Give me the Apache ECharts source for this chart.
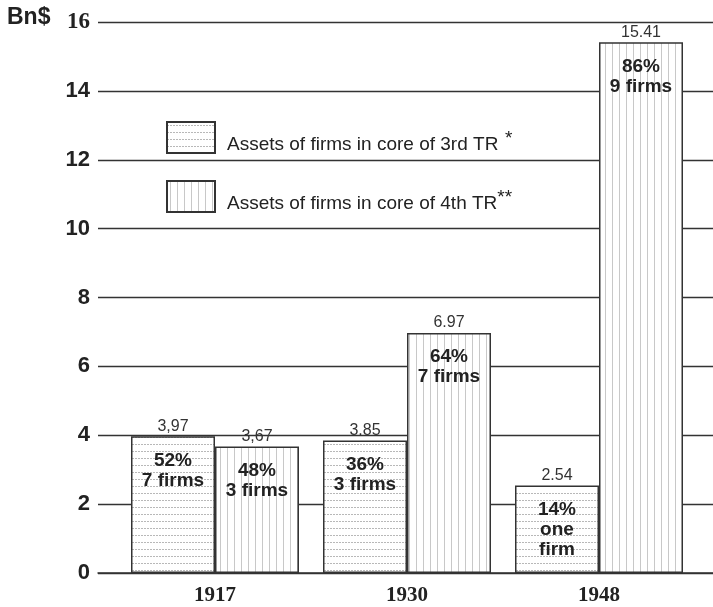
<!DOCTYPE html>
<html>
<head>
<meta charset="utf-8">
<script src="https://cdn.jsdelivr.net/npm/echarts@6/dist/echarts.min.js"></script>
<style>
html,body{margin:0;padding:0;background:#fff;}
#chart{width:713px;height:607px;}
</style>
</head>
<body>
<div id="chart"></div>
<script>
// ---- data ----
var years = ['1917', '1930', '1948'];
var seriesNames = ['Assets of firms in core of 3rd TR', 'Assets of firms in core of 4th TR'];
var core3Values = [3.97, 3.85, 2.54];
var core4Values = [3.67, 6.97, 15.41];
var core3ValueLabels = ['3,97', '3.85', '2.54'];
var core4ValueLabels = ['3,67', '6.97', '15.41'];
var core3ShareLabels = ['52%\n7 firms', '36%\n3 firms', '14%\none\nfirm'];
var core4ShareLabels = ['48%\n3 firms', '64%\n7 firms', '86%\n9 firms'];
var yTicks = [0, 2, 4, 6, 8, 10, 12, 14, 16];

// ---- patterns ----
function hPattern() {
  var c = document.createElement('canvas');
  c.width = 6; c.height = 7;
  var g = c.getContext('2d');
  g.fillStyle = '#ffffff'; g.fillRect(0, 0, 6, 7);
  g.fillStyle = '#b8b8b8';
  g.fillRect(0, 3, 2, 1);
  g.fillRect(3, 3, 2, 1);
  return c;
}
function vPattern() {
  var c = document.createElement('canvas');
  c.width = 7; c.height = 8;
  var g = c.getContext('2d');
  g.fillStyle = '#ffffff'; g.fillRect(0, 0, 7, 8);
  g.fillStyle = '#c8c8c8';
  g.fillRect(3, 0, 1, 8);
  return c;
}

var chart = echarts.init(document.getElementById('chart'));
var gridTop = 22, gridBottom = 34;
var ink = '#222';
var sans = '"Liberation Sans", Arial, sans-serif';
var serif = '"Liberation Serif", "Times New Roman", serif';

var option = {
  backgroundColor: '#fff',
  animation: false,
  graphic: [{
    type: 'text', left: 7, top: 6,
    style: { text: 'Bn$', font: 'bold 23px ' + sans, fill: ink }
  }],
  legend: {
    data: seriesNames,
    orient: 'vertical',
    left: 161, top: 116,
    itemWidth: 48, itemHeight: 31, itemGap: 26,
    icon: 'rect',
    formatter: function (name) {
      return name === seriesNames[0] ? '{t|' + name + '}  {s|*}' : '{t|' + name + '}{s|**}';
    },
    textStyle: {
      color: ink,
      padding: [14, 0, 0, 7],
      rich: {
        t: { fontSize: 19, fontFamily: sans, color: ink },
        s: { fontSize: 19, fontFamily: sans, color: ink, padding: [0, 0, 12, 0] }
      }
    }
  },
  grid: [
    { left: 98, right: 0, top: gridTop, bottom: gridBottom },
    { left: 119, right: 18, top: gridTop, bottom: gridBottom },
    { left: 119, right: 18, top: gridTop, bottom: gridBottom }
  ],
  xAxis: [
    { gridIndex: 0, type: 'category', data: [''], axisTick: { show: false }, axisLabel: { show: false },
      axisLine: { show: true, lineStyle: { color: '#333', width: 1.5 } } },
    { gridIndex: 1, type: 'category', data: years, axisTick: { show: false },
      axisLine: { show: false },
      axisLabel: { margin: 12, color: ink, fontSize: 21, fontWeight: 'bold', fontFamily: serif } },
    { gridIndex: 2, type: 'category', data: years, show: false }
  ],
  yAxis: [
    { gridIndex: 0, type: 'value', min: yTicks[0], max: yTicks[yTicks.length - 1], interval: 2,
      axisLine: { show: false }, axisTick: { show: false },
      splitLine: { show: true, lineStyle: { color: '#333', width: 1.3 } },
      axisLabel: {
        margin: 8,
        formatter: function (v) { return v === 16 ? '{s|' + v + '}' : '{n|' + v + '}'; },
        rich: {
          n: { fontSize: 22, fontWeight: 'bold', color: ink, fontFamily: sans },
          s: { fontSize: 23, fontWeight: 'bold', color: ink, fontFamily: serif }
        }
      } },
    { gridIndex: 1, type: 'value', min: 0, max: 16, interval: 2, show: false, splitLine: { show: false } },
    { gridIndex: 2, type: 'value', min: 0, max: 16, interval: 2, show: false, splitLine: { show: false } }
  ],
  series: [
    {
      name: seriesNames[0], type: 'bar', xAxisIndex: 1, yAxisIndex: 1,
      data: core3Values, barWidth: 84, barGap: 0,
      itemStyle: { color: { image: hPattern(), repeat: 'repeat' }, borderColor: '#333', borderWidth: 1.5 },
      label: { show: true, position: 'top', distance: 2, fontSize: 16, color: '#333', fontFamily: sans,
        formatter: function (p) { return core3ValueLabels[p.dataIndex]; } }
    },
    {
      name: seriesNames[1], type: 'bar', xAxisIndex: 1, yAxisIndex: 1,
      data: core4Values, barWidth: 84, barGap: 0,
      itemStyle: { color: { image: vPattern(), repeat: 'repeat' }, borderColor: '#333', borderWidth: 1.5 },
      label: { show: true, position: 'top', distance: 2, fontSize: 16, color: '#333', fontFamily: sans,
        formatter: function (p) { return core4ValueLabels[p.dataIndex]; } }
    },
    {
      name: 'share3', type: 'bar', xAxisIndex: 2, yAxisIndex: 2, silent: true,
      data: core3Values, barWidth: 84, barGap: 0,
      itemStyle: { color: 'rgba(0,0,0,0)' },
      label: { show: true, position: 'insideTop', distance: 14, fontSize: 19, fontWeight: 'bold',
        lineHeight: 20, color: ink, fontFamily: sans,
        formatter: function (p) { return core3ShareLabels[p.dataIndex]; } }
    },
    {
      name: 'share4', type: 'bar', xAxisIndex: 2, yAxisIndex: 2, silent: true,
      data: core4Values, barWidth: 84, barGap: 0,
      itemStyle: { color: 'rgba(0,0,0,0)' },
      label: { show: true, position: 'insideTop', distance: 14, fontSize: 19, fontWeight: 'bold',
        lineHeight: 20, color: ink, fontFamily: sans,
        formatter: function (p) { return core4ShareLabels[p.dataIndex]; } }
    }
  ]
};
chart.setOption(option);
</script>
</body>
</html>
